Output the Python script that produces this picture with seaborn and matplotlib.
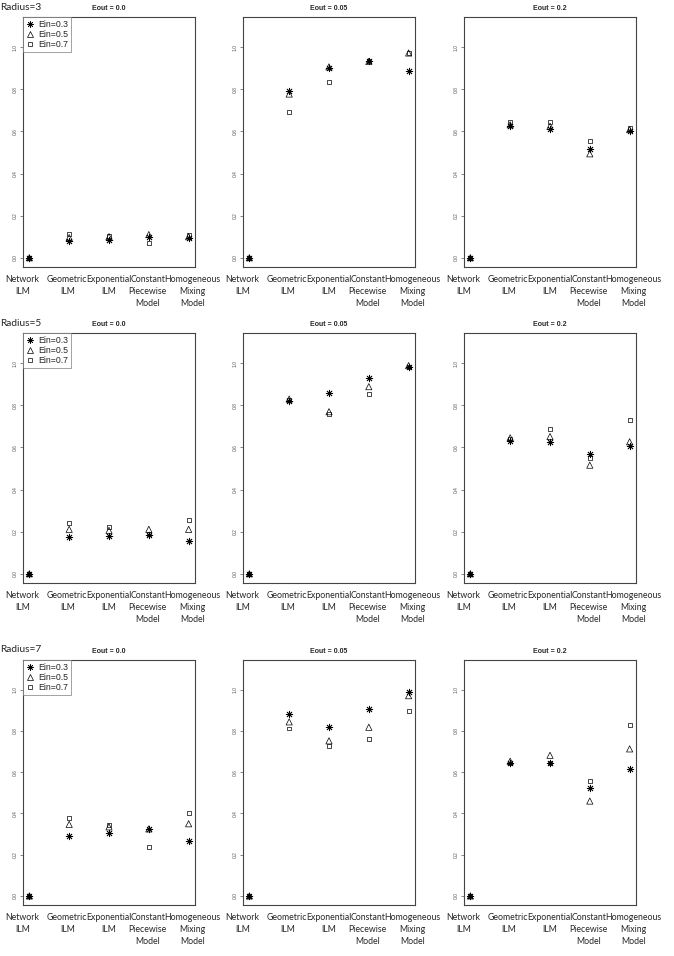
import pandas as pd
import matplotlib.pyplot as plt
import matplotlib.transforms as mtransforms
import seaborn as sns
from matplotlib.lines import Line2D

MODELS = ["Network\nILM", "Geometric\nILM", "Exponential\nILM",
          "Constant\nPiecewise\nModel", "Homogeneous\nMixing\nModel"]
EIN = ["Ein=0.3", "Ein=0.5", "Ein=0.7"]
RADII = [3, 5, 7]
EOUT = ["0.0", "0.05", "0.2"]

# each panel: rows are Ein=0.3, 0.5, 0.7 ; columns are the five models
r3_e000 = [[0, 0.080, 0.086, 0.099, 0.095],
           [0, 0.096, 0.100, 0.110, 0.100],
           [0, 0.112, 0.105, 0.070, 0.110]]
r3_e005 = [[0, 0.793, 0.900, 0.933, 0.888],
           [0, 0.778, 0.907, 0.933, 0.973],
           [0, 0.692, 0.836, 0.933, 0.973]]
r3_e020 = [[0, 0.625, 0.614, 0.515, 0.600],
           [0, 0.632, 0.625, 0.494, 0.609],
           [0, 0.643, 0.644, 0.553, 0.616]]
r5_e000 = [[0, 0.175, 0.181, 0.186, 0.154],
           [0, 0.211, 0.206, 0.211, 0.211],
           [0, 0.243, 0.222, 0.187, 0.254]]
r5_e005 = [[0, 0.819, 0.859, 0.929, 0.984],
           [0, 0.830, 0.770, 0.889, 0.989],
           [0, 0.825, 0.759, 0.854, 0.984]]
r5_e020 = [[0, 0.632, 0.625, 0.568, 0.606],
           [0, 0.646, 0.652, 0.516, 0.627],
           [0, 0.641, 0.686, 0.552, 0.730]]
r7_e000 = [[0, 0.290, 0.303, 0.325, 0.268],
           [0, 0.347, 0.335, 0.325, 0.350],
           [0, 0.379, 0.345, 0.239, 0.404]]
r7_e005 = [[0, 0.884, 0.818, 0.908, 0.990],
           [0, 0.844, 0.752, 0.818, 0.971],
           [0, 0.812, 0.725, 0.761, 0.895]]
r7_e020 = [[0, 0.645, 0.646, 0.524, 0.615],
           [0, 0.653, 0.682, 0.460, 0.713],
           [0, 0.642, 0.646, 0.559, 0.830]]

PANELS = [[r3_e000, r3_e005, r3_e020],
          [r5_e000, r5_e005, r5_e020],
          [r7_e000, r7_e005, r7_e020]]

MARKERS = [(8, 2, 0), "^", "s"]
SIZES = [22, 20, 8]


def panel_frame(values):
    rows = []
    for ein, series in zip(EIN, values):
        for i, v in enumerate(series):
            rows.append({"pos": i + 1, "value": v, "ein": ein})
    return pd.DataFrame(rows)


def main():
    sns.set_style("white")
    plt.rcParams["font.family"] = ["Liberation Sans", "DejaVu Sans"]
    W, H = 674, 956
    fig = plt.figure(figsize=(W / 100, H / 100), dpi=100)

    col_left = [23, 243, 464]
    row_top = [17, 333, 660]
    row_bottom = [267, 583, 905]
    label_x = [0.82, 1.95, 3.0, 3.97, 5.1]

    for r in range(3):
        fig.text(0.0, 1 - (row_top[r] - 10) / H, "Radius=%d" % RADII[r],
                 ha="left", va="center", fontsize=7.3, family="Lato")
        for c in range(3):
            ax = fig.add_axes([col_left[c] / W, 1 - row_bottom[r] / H,
                               172 / W, (row_bottom[r] - row_top[r]) / H])
            df = panel_frame(PANELS[r][c])
            for k, ein in enumerate(EIN):
                sub = df[df.ein == ein]
                if k == 0:
                    sns.scatterplot(data=sub, x="pos", y="value", ax=ax,
                                    marker=MARKERS[k], s=SIZES[k],
                                    color="black", linewidth=0.6)
                else:
                    sns.scatterplot(data=sub, x="pos", y="value", ax=ax,
                                    marker=MARKERS[k], s=SIZES[k],
                                    facecolor="none", edgecolor="black",
                                    linewidth=0.5)
            ax.set_xlim(0.84, 5.16)
            ax.set_ylim(-0.044, 1.144)
            ax.set_xticks([])
            ax.set_yticks([0, 0.2, 0.4, 0.6, 0.8, 1.0])
            ax.set_yticklabels(["0.0", "0.2", "0.4", "0.6", "0.8", "1.0"],
                               rotation=90, va="center", fontsize=3.5,
                               color="#555555")
            ax.tick_params(axis="y", left=True, length=2.5, width=0.5,
                           pad=1.5, color="#555555")
            ax.set_xlabel("")
            ax.set_ylabel("")
            for s in ax.spines.values():
                s.set_color("#444444")
                s.set_linewidth(0.8)
            ax.set_title("Eout = %s" % EOUT[c], fontsize=5, fontweight="bold",
                         pad=5)
            trans = mtransforms.blended_transform_factory(ax.transData,
                                                          fig.transFigure)
            for x, lab in zip(label_x, MODELS):
                ax.text(x, 1 - (row_bottom[r] + 8) / H, lab, transform=trans,
                        ha="center", va="top", fontsize=6.3, family="Lato",
                        linespacing=1.45)
            if c == 0:
                handles = [Line2D([], [], ls="", marker=MARKERS[0], color="k",
                                  markersize=4.5, markeredgewidth=0.5),
                           Line2D([], [], ls="", marker="^", mfc="none",
                                  mec="k", markersize=4.5, markeredgewidth=0.5),
                           Line2D([], [], ls="", marker="s", mfc="none",
                                  mec="k", markersize=3, markeredgewidth=0.5)]
                leg = ax.legend(handles, EIN, loc="upper left", fontsize=6.3,
                                frameon=True, fancybox=False,
                                borderaxespad=0, handlelength=1.0,
                                handletextpad=0.4, borderpad=0.35,
                                labelspacing=0.1)
                leg.get_frame().set_edgecolor("#777777")
                leg.get_frame().set_linewidth(0.6)

    fig.savefig("out.png", dpi=100)


if __name__ == "__main__":
    main()
